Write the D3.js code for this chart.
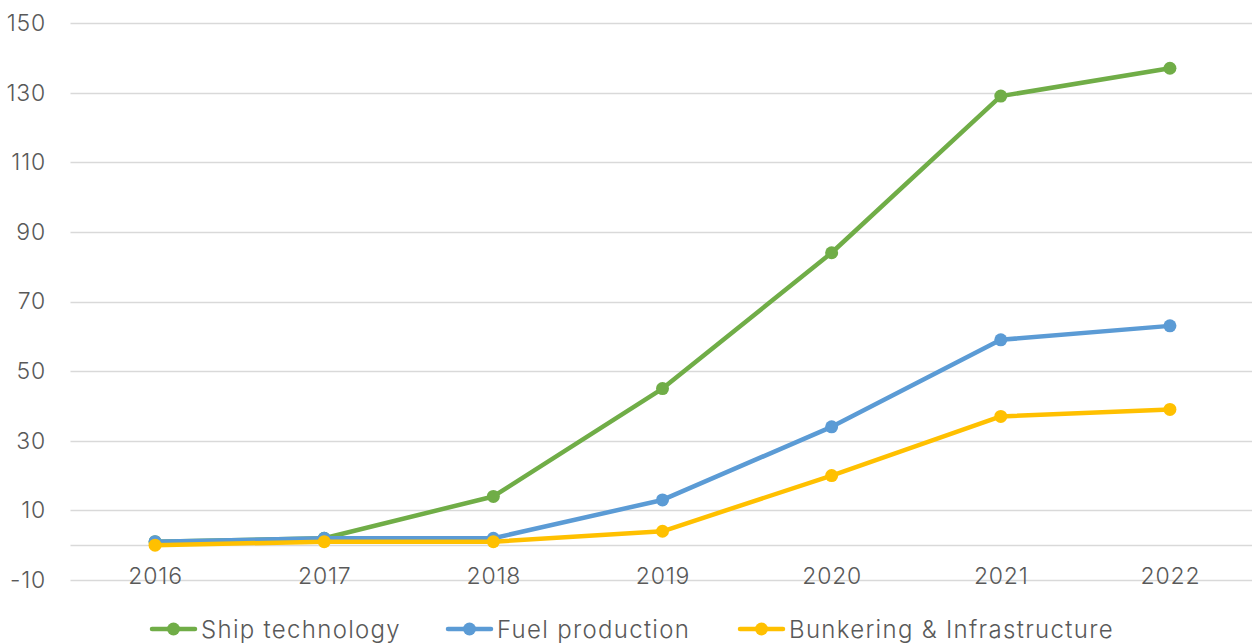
<!DOCTYPE html>
<html>
<head>
<meta charset="utf-8">
<script src="https://cdn.jsdelivr.net/npm/d3@7"></script>
<style>
  html, body { margin: 0; padding: 0; background: #fff; }
  svg { display: block; font-family: "Inter", "Roboto", sans-serif; }
</style>
</head>
<body>
<svg id="chart" width="1252" height="643"></svg>
<script>
const years = ["2016", "2017", "2018", "2019", "2020", "2021", "2022"];
const shipTechnology = [1, 2, 14, 45, 84, 129, 137];
const fuelProduction = [1, 2, 2, 13, 34, 59, 63];
const bunkeringInfrastructure = [0, 1, 1, 4, 20, 37, 39];
const yTicks = [-10, 10, 30, 50, 70, 90, 110, 130, 150];

const series = [
  { name: "Ship technology", values: shipTechnology, color: "#70AD47" },
  { name: "Fuel production", values: fuelProduction, color: "#5B9BD5" },
  { name: "Bunkering & Infrastructure", values: bunkeringInfrastructure, color: "#FFC000" }
];

const svg = d3.select("#chart");
const plotLeft = 70.5, plotRight = 1254.5, plotTop = 23, plotBottom = 580;

const x = d3.scalePoint().domain(years).range([plotLeft, plotRight]).padding(0.5);
const y = d3.scaleLinear().domain([-10, 150]).range([plotBottom, plotTop]);

// horizontal gridlines, including the zero line
const gridValues = yTicks.concat([0]);
svg.append("g").selectAll("line").data(gridValues).join("line")
  .attr("x1", plotLeft).attr("x2", 1252)
  .attr("y1", d => Math.round(y(d)) + 0.5).attr("y2", d => Math.round(y(d)) + 0.5)
  .attr("stroke", "#D9D9D9").attr("stroke-width", 1.5);

const labelStyle = sel => sel
  .attr("font-size", 23).attr("font-weight", 300).attr("letter-spacing", "0.8px")
  .attr("fill", "#595959").attr("font-family", "Inter, Roboto, sans-serif");

// y axis labels (plain hyphen for negatives)
const yAxis = d3.axisLeft(y).tickValues(yTicks).tickFormat(d => String(d)).tickSize(0).tickPadding(0);
svg.append("g").attr("transform", "translate(46,0)").call(yAxis)
  .call(g => g.select(".domain").remove())
  .selectAll("text").call(labelStyle);

// x axis labels
const xAxis = d3.axisBottom(x).tickSize(0).tickPadding(0);
svg.append("g").attr("transform", "translate(0,568)").call(xAxis)
  .call(g => g.select(".domain").remove())
  .selectAll("text").call(labelStyle);

// series lines and markers
const line = d3.line().x((d, i) => x(years[i])).y(d => y(d));
series.forEach(s => {
  const g = svg.append("g");
  g.append("path").attr("d", line(s.values))
    .attr("fill", "none").attr("stroke", s.color)
    .attr("stroke-width", 4.5).attr("stroke-linejoin", "round").attr("stroke-linecap", "round");
  g.selectAll("circle").data(s.values).join("circle")
    .attr("cx", (d, i) => x(years[i])).attr("cy", d => y(d))
    .attr("r", 6.5).attr("fill", s.color);
});

// legend
const legendX = [152, 448, 740];
const legendY = 629;
const lg = svg.append("g").selectAll("g").data(series).join("g")
  .attr("transform", (d, i) => `translate(${legendX[i]},${legendY})`);
lg.append("line").attr("x1", 0).attr("x2", 43).attr("y1", 0).attr("y2", 0)
  .attr("stroke", d => d.color).attr("stroke-width", 4.5).attr("stroke-linecap", "round");
lg.append("circle").attr("cx", 21.5).attr("cy", 0).attr("r", 6.5).attr("fill", d => d.color);
lg.append("text").attr("x", 49).attr("y", 0).attr("dy", "0.36em")
  .attr("font-size", 24).attr("font-weight", 300).attr("letter-spacing", "1.3px")
  .attr("fill", "#595959")
  .text(d => d.name);
</script>
</body>
</html>
